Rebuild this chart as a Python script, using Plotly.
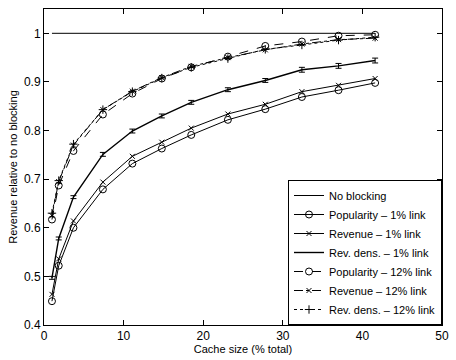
import plotly.graph_objects as go

cache = [1, 1.85, 3.7, 7.4, 11.1, 14.8, 18.5, 23.1, 27.8, 32.4, 37, 41.6]
no_block = [1.0] * len(cache)
pop_1 = [0.449, 0.522, 0.600, 0.679, 0.732, 0.763, 0.791, 0.822, 0.844, 0.869, 0.883, 0.898]
rev_1 = [0.463, 0.536, 0.614, 0.694, 0.747, 0.776, 0.805, 0.834, 0.854, 0.880, 0.893, 0.907]
dens_1 = [0.497, 0.578, 0.663, 0.751, 0.799, 0.830, 0.858, 0.884, 0.903, 0.925, 0.933, 0.944]
dens_1_err = [0.003, 0.003, 0.003, 0.004, 0.004, 0.004, 0.004, 0.004, 0.004, 0.005, 0.005, 0.005]
pop_12 = [0.617, 0.687, 0.758, 0.833, 0.876, 0.907, 0.930, 0.952, 0.974, 0.983, 0.995, 0.997]
rev_12 = [0.625, 0.695, 0.770, 0.843, 0.881, 0.909, 0.932, 0.950, 0.966, 0.978, 0.987, 0.990]
dens_12 = [0.630, 0.697, 0.772, 0.843, 0.880, 0.908, 0.930, 0.948, 0.967, 0.976, 0.986, 0.992]

xticks = [0, 10, 20, 30, 40, 50]
yticks = [0.4, 0.5, 0.6, 0.7, 0.8, 0.9, 1.0]
yticklabels = ["0.4", "0.5", "0.6", "0.7", "0.8", "0.9", "1"]

FONT = "Liberation Sans, Arial, Helvetica, sans-serif"
fig = go.Figure()

def add(y, name, symbol=None, dash="solid", width=1, err=None, size=6):
    mode = "lines+markers" if symbol else "lines"
    kw = {}
    if err is not None:
        kw["error_y"] = dict(type="data", array=err, color="black", thickness=1, width=3)
    fig.add_trace(go.Scatter(
        x=cache, y=y, name=name, mode=mode,
        line=dict(color="black", width=width, dash=dash),
        marker=dict(symbol=symbol or "circle", size=size, color="black",
                    line=dict(color="black", width=1)),
        **kw))

add(no_block, "No blocking")
add(pop_1, "Popularity – 1% link", "circle-open", "solid", 1, size=7)
add(rev_1, "Revenue – 1% link", "x-thin-open", "solid", 1, size=5)
add(dens_1, "Rev. dens. – 1% link", None, "solid", 1.4, err=dens_1_err)
add(pop_12, "Popularity – 12% link", "circle-open", "dash", 1, size=7)
add(rev_12, "Revenue – 12% link", "x-thin-open", "dashdot", 1, size=5)
add(dens_12, "Rev. dens. – 12% link", "cross-thin-open", "dot", 1, size=6)

axis_common = dict(showline=True, linecolor="black", linewidth=1, mirror="ticks",
                   ticks="inside", ticklen=5, tickcolor="black", showgrid=False,
                   zeroline=False, tickfont=dict(size=12, color="black", family=FONT))

fig.update_layout(
    width=456, height=360,
    margin=dict(l=44, r=7, t=9, b=32),
    paper_bgcolor="white", plot_bgcolor="white",
    font=dict(family=FONT, color="black", size=11),
    xaxis=dict(range=[0, 50], tickvals=xticks,
               title=dict(text="Cache size (% total)", font=dict(size=11), standoff=2),
               **axis_common),
    yaxis=dict(range=[0.4, 1.05], tickvals=yticks, ticktext=yticklabels,
               title=dict(text="Revenue relative to no blocking", font=dict(size=11), standoff=4),
               **axis_common),
    legend=dict(x=1, y=0, xanchor="right", yanchor="bottom", bgcolor="white",
                bordercolor="black", borderwidth=1, font=dict(size=11, family=FONT),
                tracegroupgap=0, itemwidth=30),
    showlegend=True,
)

fig.write_html("out.html")
